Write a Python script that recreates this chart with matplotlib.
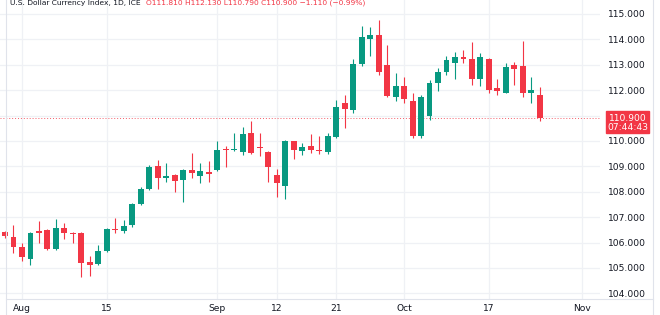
import numpy as np
import pandas as pd
import matplotlib
matplotlib.use("Agg")
import matplotlib.pyplot as plt
from matplotlib.patches import Rectangle
from matplotlib.transforms import blended_transform_factory

# daily candles, 28 Jul - 25 Oct 2022 (trading days)
opens = [106.40, 106.22, 105.83, 105.35, 106.46, 106.50, 105.75, 106.58, 106.36, 106.38,
         105.24, 105.16, 105.67, 106.52, 106.46, 106.69, 107.52, 108.11, 109.01, 108.54,
         108.66, 108.46, 108.86, 108.62, 108.78, 108.86, 109.67, 109.63, 109.57, 110.32,
         109.75, 109.57, 108.66, 108.23, 109.98, 109.60, 109.81, 109.63, 109.57, 110.16,
         111.49, 111.22, 113.03, 114.02, 114.17, 112.99, 111.73, 112.17, 111.57, 110.20,
         111.00, 112.28, 112.72, 113.07, 113.31, 113.23, 112.44, 113.23, 112.09, 111.89,
         113.00, 112.95, 111.89, 111.81]
highs = [106.45, 106.69, 105.98, 106.40, 106.85, 106.55, 106.93, 106.77, 106.42, 106.42,
         105.47, 105.91, 106.58, 106.97, 106.89, 107.56, 108.19, 109.05, 109.25, 109.13,
         108.70, 108.90, 109.53, 109.13, 109.21, 109.98, 109.80, 110.30, 110.55, 110.79,
         110.30, 109.60, 108.90, 110.04, 110.00, 109.92, 110.28, 110.20, 110.32, 111.60,
         111.81, 113.23, 114.53, 114.49, 114.76, 113.78, 112.68, 112.52, 111.89, 111.80,
         112.40, 112.88, 113.35, 113.50, 113.58, 113.90, 113.47, 113.27, 112.44, 113.07,
         113.11, 113.94, 112.52, 112.13]
lows = [106.20, 105.59, 105.28, 105.12, 105.98, 105.70, 105.72, 106.14, 105.98, 104.65,
        104.68, 105.10, 105.63, 106.38, 106.38, 106.61, 107.48, 108.07, 108.11, 108.39,
        107.99, 107.60, 108.54, 108.35, 108.39, 108.82, 108.98, 109.60, 109.45, 109.50,
        109.40, 108.39, 107.80, 107.72, 109.30, 109.45, 109.53, 109.49, 109.49, 110.10,
        110.51, 111.10, 112.95, 113.35, 112.60, 111.73, 111.58, 111.50, 110.12, 110.12,
        110.83, 111.97, 112.60, 112.44, 113.07, 112.20, 112.17, 111.89, 111.81, 111.89,
        112.20, 111.73, 111.50, 110.79]
closes = [106.25, 105.83, 105.43, 106.38, 106.38, 105.75, 106.58, 106.38, 106.32, 105.20,
          105.12, 105.67, 106.54, 106.48, 106.66, 107.52, 108.11, 108.97, 108.54, 108.62,
          108.42, 108.86, 108.74, 108.82, 108.70, 109.65, 109.63, 109.67, 110.28, 109.53,
          109.71, 108.98, 108.35, 110.00, 109.65, 109.76, 109.65, 109.60, 110.20, 111.34,
          111.26, 113.03, 114.09, 114.17, 112.72, 111.77, 112.17, 111.65, 110.20, 111.73,
          112.28, 112.72, 113.19, 113.31, 113.23, 112.44, 113.31, 112.01, 111.97, 112.92,
          112.84, 111.89, 112.01, 110.90]

tick_dates = ["2022-08-01", "2022-08-15", "2022-09-01", "2022-09-12",
              "2022-09-21", "2022-10-03", "2022-10-17", "2022-11-01"]
tick_labels = ["Aug", "15", "Sep", "12", "21", "Oct", "17", "Nov"]
price_ticks = np.arange(104, 116)
last_price = 110.900
countdown = "07:44:43"
title = "U.S. Dollar Currency Index, 1D, ICE"
ohlc_text = "O111.810 H112.130 L110.790 C110.900 \u22121.110 (\u22120.99%)"

UP = "#089981"
DOWN = "#f23645"
GRID = "#eff1f5"
TXT = "#131722"
FS = 6.6

all_days = pd.bdate_range("2022-07-28", "2022-11-01")
tick_pos = all_days.get_indexer(pd.to_datetime(tick_dates))

fig = plt.figure(figsize=(6.6, 3.15), dpi=100)
ax = fig.add_axes([0, 15 / 315, 600 / 660, 300 / 315])

o = np.array(opens)
c = np.array(closes)
x = np.arange(len(o))
cols = np.where(c >= o, UP, DOWN)
ax.vlines(x, lows, highs, colors=cols, lw=0.8, zorder=3)
bottoms = np.minimum(o, c)
heights = np.maximum(np.abs(c - o), 0.04)
ax.bar(x, heights, bottom=bottoms, width=0.7, color=cols, zorder=4)

ax.set_xlim(-0.59, 70.08)
ax.set_ylim(103.74, 115.55)
ax.set_xticks(tick_pos)
ax.set_xticklabels(tick_labels)
ax.set_yticks(price_ticks)
ax.set_yticklabels(["%.3f" % v for v in price_ticks])
ax.yaxis.tick_right()
ax.tick_params(axis="both", length=0, labelsize=FS, colors=TXT)
ax.tick_params(axis="x", pad=3)
ax.tick_params(axis="y", pad=6)
ax.grid(color=GRID, lw=0.9)
ax.set_axisbelow(True)
for s in ax.spines.values():
    s.set_visible(False)

# last price line + label
ax.axhline(last_price, color=DOWN, lw=0.7, ls=(0, (1, 2)), alpha=0.8, zorder=2)
tr = blended_transform_factory(fig.transFigure, ax.transData)
box = Rectangle((606 / 660, last_price - 0.59), 43 / 660, 0.87,
                transform=tr, color=DOWN, clip_on=False, zorder=5)
fig.add_artist(box)
fig.text(627.5 / 660, last_price, "%.3f" % last_price, transform=tr, color="white",
         fontsize=FS, ha="center", va="center", zorder=6)
fig.text(627.5 / 660, last_price - 0.38, countdown, transform=tr, color="white",
         fontsize=FS, ha="center", va="center", zorder=6)

# frame
fig.add_artist(plt.Line2D([6 / 660, 6 / 660], [0, 1], color="#e0e3eb", lw=0.8))
fig.add_artist(plt.Line2D([653 / 660, 653 / 660], [0, 1], color="#e0e3eb", lw=0.8))
fig.add_artist(plt.Line2D([6 / 660, 653 / 660], [16 / 315, 16 / 315], color="#e0e3eb", lw=0.8))

# legend line, cut off at the top of the screenshot
t1 = fig.text(10 / 660, 1 - 4.5 / 315, title, fontsize=5.4, color=TXT, va="baseline")
fig.canvas.draw()
bb = t1.get_window_extent()
fig.text((bb.x1 + 5) / 660, 1 - 4.5 / 315, ohlc_text, fontsize=5.4, color=DOWN, va="baseline")

fig.savefig("out.png", dpi=100, facecolor="white")
